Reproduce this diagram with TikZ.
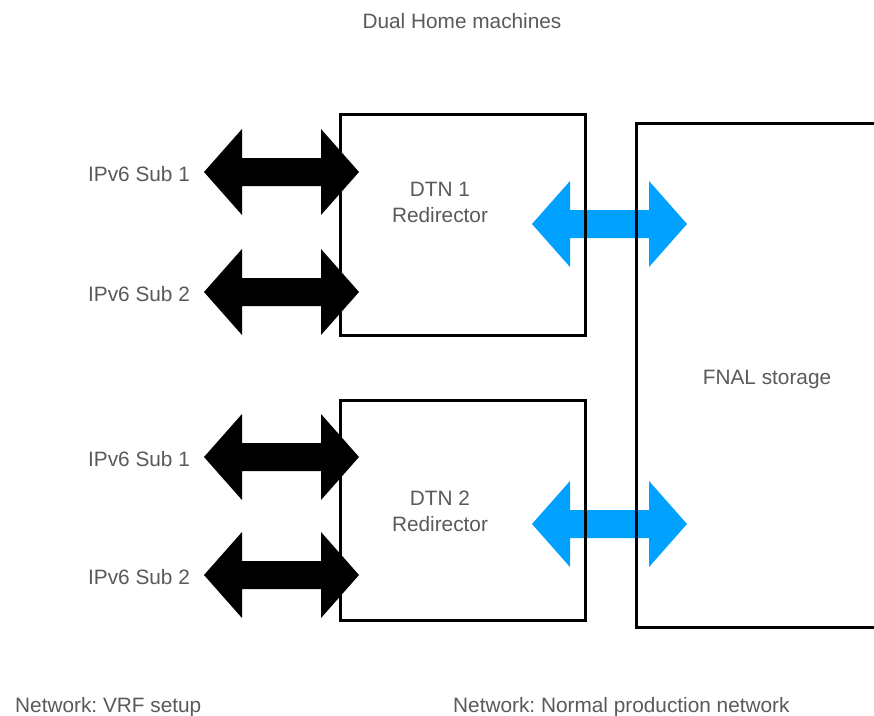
\documentclass[tikz,border=0pt]{standalone}
\usepackage{fontspec}
\setmainfont{Liberation Sans}
\frenchspacing
\definecolor{txt}{HTML}{5A5A5A}
\definecolor{link}{HTML}{00A1FF}

% double-headed block arrow: colour, left tip x, right tip x, centre y
\newcommand{\blockarrow}[4]{%
  \fill[#1] (#2,#4) -- ({#2+38},{#4-43}) -- ({#2+38},{#4-14})
    -- ({#3-38},{#4-14}) -- ({#3-38},{#4-43}) -- (#3,#4)
    -- ({#3-38},{#4+43}) -- ({#3-38},{#4+14}) -- ({#2+38},{#4+14})
    -- ({#2+38},{#4+43}) -- cycle;}

\begin{document}
\begin{tikzpicture}[x=1pt,y=-1pt,
  box/.style={draw=black, line width=3pt, fill=none, inner sep=0pt},
  label/.style={text=txt, font=\fontsize{20.8}{26}\selectfont, inner sep=0pt, anchor=base, align=center}]
\useasboundingbox (0,0) rectangle (874,715);
\fill[white] (0,0) rectangle (874,715);

% links to the IPv6 subnets
\blockarrow{black}{204}{359}{172}
\blockarrow{black}{204}{359}{292}
\blockarrow{black}{204}{359}{457}
\blockarrow{black}{204}{359}{575}

% links to the storage
\blockarrow{link}{532}{687}{224}
\blockarrow{link}{532}{687}{524}

% machines and storage
\node[box, minimum width=245pt, minimum height=221pt] (dtn1) at (462.5,224.5) {};
\node[box, minimum width=245pt, minimum height=220pt] (dtn2) at (462.5,510) {};
\node[box, minimum width=261pt, minimum height=504pt] (fnal) at (766.5,375) {};

% texts
\node[label] (title) at (462,28) {Dual Home machines};
\node[label] (s11) at (139,181) {IPv6 Sub 1};
\node[label] (s12) at (139,301) {IPv6 Sub 2};
\node[label] (s21) at (139,466) {IPv6 Sub 1};
\node[label] (s22) at (139,584) {IPv6 Sub 2};
\node[label, anchor=center] (t1) at (440,202) {DTN 1\\Redirector};
\node[label, anchor=center] (t2) at (440,511) {DTN 2\\Redirector};
\node[label] (tf) at (767,384) {FNAL storage};
\node[label, anchor=base west] (n1) at (15,712) {Network: VRF setup};
\node[label, anchor=base west] (n2) at (453,712) {Network: Normal production network};
\end{tikzpicture}
\end{document}
